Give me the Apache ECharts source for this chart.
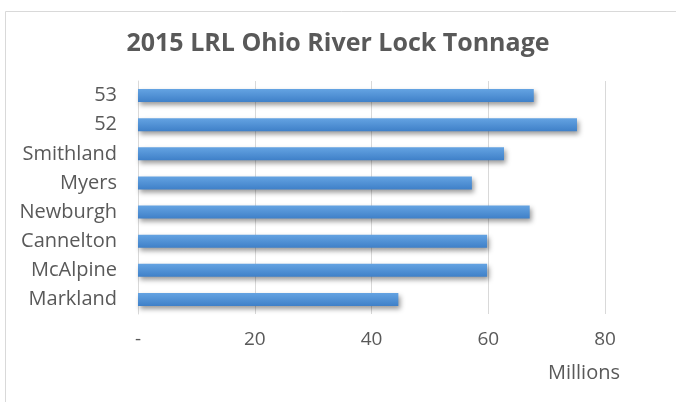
<!DOCTYPE html>
<html style="height: 100%">
<head>
    <meta charset="utf-8">
    <title>2015 LRL Ohio River Lock Tonnage</title>
</head>
<body style="height: 100%; margin: 0">
<div id="container" style="width: 676px; height: 402px"></div>

<script src="https://cdn.jsdelivr.net/npm/echarts@6/dist/echarts.min.js"></script>
<script type="text/javascript">
// locks, listed bottom to top as the category axis draws them
var locks = ['Markland', 'McAlpine', 'Cannelton', 'Newburgh', 'Myers', 'Smithland', '52', '53'];
// tonnage, millions
var tonnage = [44.6, 59.8, 59.8, 67.1, 57.2, 62.7, 75.2, 67.8];
var xTicks = [0, 20, 40, 60, 80];

var font = '"Open Sans", Lato, sans-serif';
var myChart = echarts.init(document.getElementById('container'));

var option = {
    backgroundColor: '#fff',
    animation: false,
    title: {
        text: '2015 LRL Ohio River Lock Tonnage',
        left: 'center',
        top: 26,
        textStyle: {
            color: '#595959',
            fontFamily: font,
            fontWeight: 'bold',
            fontSize: 25
        }
    },
    graphic: [
        {
            type: 'rect',
            shape: { x: 5.5, y: 11.5, width: 720, height: 420 },
            style: { fill: 'none', stroke: '#d9d9d9', lineWidth: 1 },
            silent: true
        },
        {
            type: 'text',
            right: 56,
            top: 363,
            style: { text: 'Millions', fill: '#595959', font: '20px ' + font }
        }
    ],
    grid: {
        left: 138,
        right: 71,
        top: 81,
        bottom: 88
    },
    xAxis: {
        type: 'value',
        min: xTicks[0],
        max: xTicks[xTicks.length - 1],
        interval: 20,
        axisLine: { show: false },
        axisTick: { show: false },
        splitLine: { lineStyle: { color: '#d9d9d9', width: 1 } },
        axisLabel: {
            color: '#595959',
            fontFamily: font,
            fontSize: 19,
            margin: 16,
            formatter: function (v) { return v === 0 ? '-' : v; }
        }
    },
    yAxis: {
        type: 'category',
        data: locks,
        axisLine: { show: true, lineStyle: { color: '#d9d9d9' } },
        axisTick: { show: false },
        axisLabel: {
            color: '#595959',
            fontFamily: font,
            fontSize: 20,
            margin: 21
        }
    },
    series: [{
        type: 'bar',
        data: tonnage,
        barWidth: 13,
        itemStyle: {
            color: new echarts.graphic.LinearGradient(0, 0, 0, 1, [
                { offset: 0, color: '#64a3e2' },
                { offset: 1, color: '#3f80c8' }
            ]),
            shadowColor: 'rgba(0, 0, 0, 0.4)',
            shadowBlur: 5,
            shadowOffsetX: 2,
            shadowOffsetY: 3
        }
    }]
};
myChart.setOption(option);
</script>
</body>
</html>
